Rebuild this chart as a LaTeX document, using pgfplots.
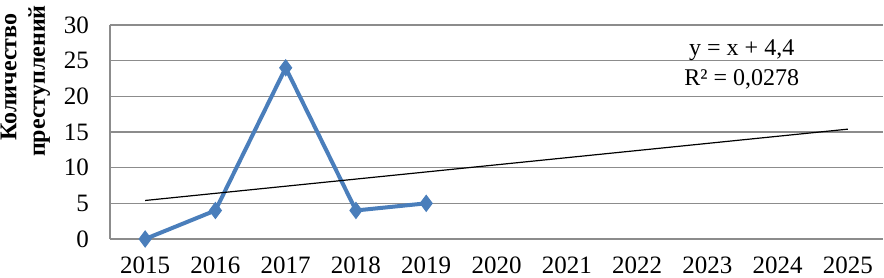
\documentclass[border=0pt]{standalone}
\usepackage{pgfplots}
\pgfplotsset{compat=1.18}
\usepackage{fontspec}
\setmainfont{Liberation Serif}
\definecolor{ser}{HTML}{4A7EBB}
\definecolor{grd}{HTML}{8C8C8C}
\begin{document}
\begin{tikzpicture}
\path[use as bounding box] (-55pt,-19.5pt) rectangle (387pt,119.5pt);
\begin{axis}[
  at={(0,0)}, anchor=south west,
  scale only axis, width=386.5pt, height=107pt,
  xmin=-0.5, xmax=10.5, ymin=0, ymax=30,
  xtick={0,1,2,3,4,5,6,7,8,9,10},
  xticklabels={2015,2016,2017,2018,2019,2020,2021,2022,2023,2024,2025},
  ytick={0,5,10,15,20,25,30},
  major tick length=0pt,
  ymajorgrids, grid style={grd, line width=0.7pt},
  axis line style={grd, line width=0.7pt},
  axis x line*=bottom, axis y line*=left,
  /pgf/number format/assume math mode=true,
  tick label style={font=\fontsize{12.5}{14}\selectfont},
  xticklabel style={yshift=-5.5pt},
  yticklabel style={xshift=-7pt},
  clip=false,
]
\addplot[ser, line width=2pt, mark=diamond*, mark size=4pt, mark options={fill=ser, draw=ser, line width=0.5pt}]
  coordinates {(0,0) (1,4) (2,24) (3,4) (4,5)};
\addplot[black, line width=0.6pt] coordinates {(0,5.4) (10,15.4)};
\node[align=center, font=\fontsize{12}{15}\selectfont] at (axis cs:8.49,24.4) {y = x + 4,4\\R² = 0,0278};
\end{axis}
\node[rotate=90, anchor=base, font=\fontsize{12}{14}\selectfont\bfseries] at (-46.75pt,81pt) {Количество};
\node[rotate=90, anchor=base, font=\fontsize{12}{14}\selectfont\bfseries] at (-32.5pt,79pt) {преступлений};
\end{tikzpicture}
\end{document}
